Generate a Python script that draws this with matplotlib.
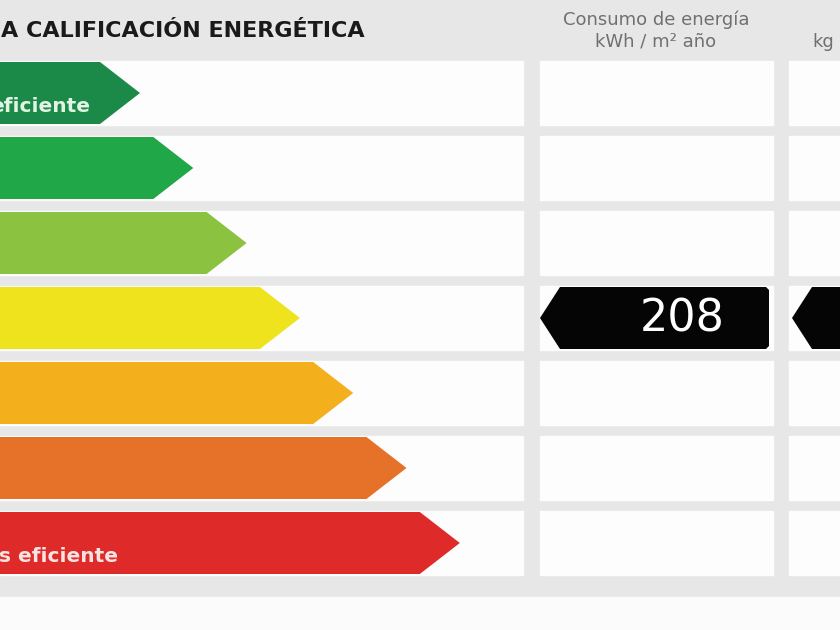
import matplotlib
matplotlib.use("Agg")
import matplotlib.pyplot as plt
from matplotlib.patches import Polygon, Rectangle

# ---- data ----
ratings = ["A", "B", "C", "D", "E", "F", "G"]
colors = ["#1b8a48", "#20a748", "#8bc23f", "#eee31d", "#f3b01c", "#e6722a", "#df2a2a"]
top_label = "eficiente"
bottom_label = "s eficiente"
title = "A CALIFICACIÓN ENERGÉTICA"
col2_header = ["Consumo de energía", "kWh / m² año"]
col3_header = "kg"
consumo_value = 208
consumo_rating = "D"

W, H = 840, 630
fig = plt.figure(figsize=(W / 100, H / 100), dpi=100)
ax = fig.add_axes([0, 0, 1, 1])
ax.set_xlim(0, W)
ax.set_ylim(H, 0)
ax.axis("off")

# background
ax.add_patch(Rectangle((0, 0), W, 597, color="#e7e7e7", zorder=0))
ax.add_patch(Rectangle((0, 597), W, H - 597, color="#fbfbfb", zorder=0))

ax.text(1, 31, title, ha="left", va="center", fontsize=16, fontweight="bold",
        color="#1a1a1a", family="DejaVu Sans")

hdr_kw = dict(fontsize=13, color="#707070", family="DejaVu Sans")
ax.text(656, 20, col2_header[0], ha="center", va="center", **hdr_kw)
ax.text(656, 42, col2_header[1], ha="center", va="center", **hdr_kw)
ax.text(812, 42, col3_header, ha="left", va="center", **hdr_kw)

row_top0 = 61
row_pitch = 75
row_h = 64
tip_depth = 40

for i, (r, c) in enumerate(zip(ratings, colors)):
    y0 = row_top0 + i * row_pitch
    y1 = y0 + row_h
    ym = (y0 + y1) / 2
    # white panels
    ax.add_patch(Rectangle((0, y0), 523, row_h, color="#fdfdfd", zorder=1))
    ax.add_patch(Rectangle((540, y0), 233, row_h, color="#fdfdfd", zorder=1))
    ax.add_patch(Rectangle((789, y0), 60, row_h, color="#fdfdfd", zorder=1))
    # arrow
    tip = 140 + i * 53.3
    poly = Polygon([(-5, y0 + 1), (tip - tip_depth, y0 + 1), (tip, ym),
                    (tip - tip_depth, y1 - 1), (-5, y1 - 1)],
                   closed=True, facecolor=c, edgecolor="none", zorder=2)
    ax.add_patch(poly)
    if r == consumo_rating:
        # black tag in column 2
        tag = Polygon([(540, ym), (560, y0 + 1), (766, y0 + 1), (769, y0 + 4),
                       (769, y1 - 4), (766, y1 - 1), (560, y1 - 1)],
                      closed=True, facecolor="#050505", edgecolor="none", zorder=3)
        ax.add_patch(tag)
        ax.text(682, ym + 1, str(consumo_value), ha="center", va="center",
                fontsize=32, color="white", zorder=4)
        tag2 = Polygon([(792, ym), (812, y0 + 1), (845, y0 + 1), (845, y1 - 1),
                        (812, y1 - 1)],
                       closed=True, facecolor="#050505", edgecolor="none", zorder=3)
        ax.add_patch(tag2)

ax.text(-10, 106, top_label, ha="left", va="center", fontsize=14.5, fontweight="bold",
        color="#e3f3e6", zorder=5)
ax.text(-1, 556, bottom_label, ha="left", va="center", fontsize=14.5, fontweight="bold",
        color="#fbe3e3", zorder=5)

fig.savefig("out.png", dpi=100)
